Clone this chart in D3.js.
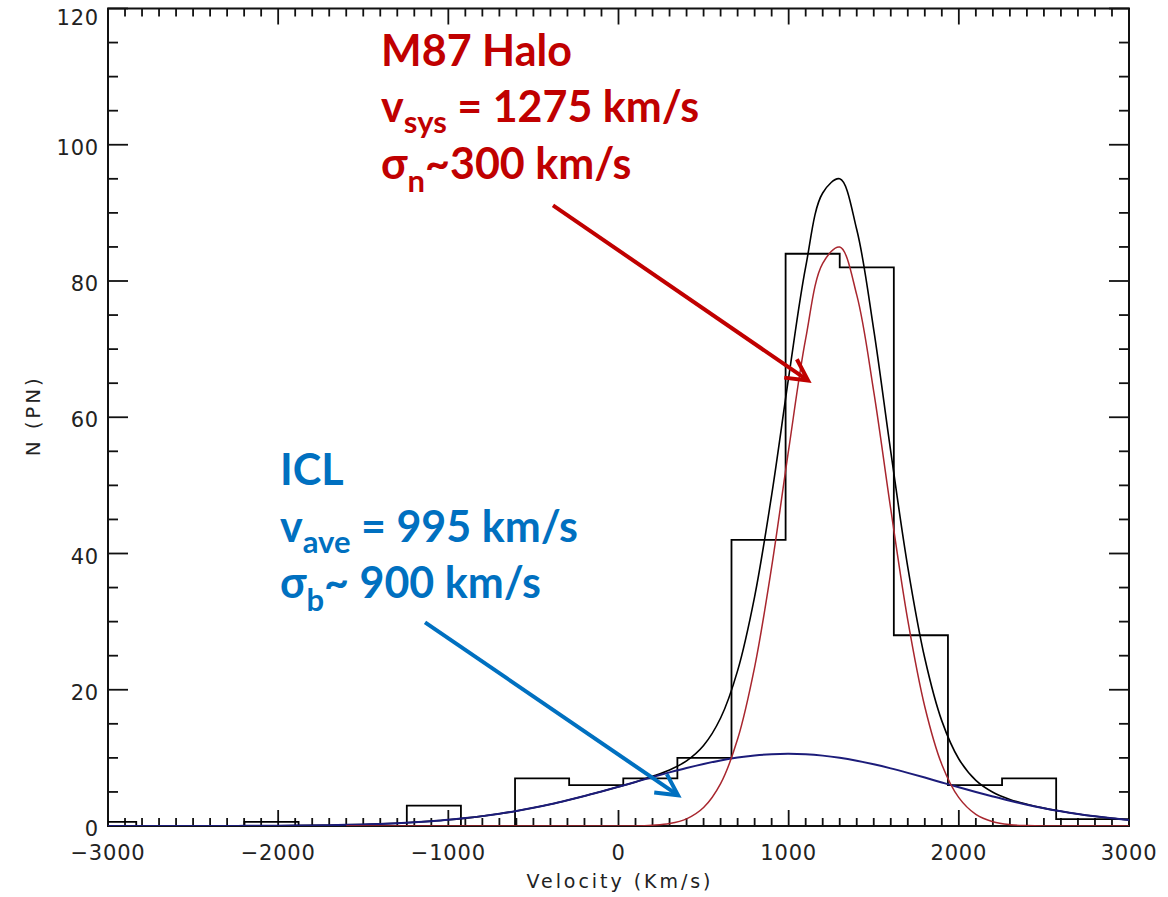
<!DOCTYPE html>
<html><head><meta charset="utf-8">
<script src="https://cdn.jsdelivr.net/npm/d3@7"></script>
<style>html,body{margin:0;padding:0;background:#fff;}svg{display:block;}</style>
</head><body>
<svg id="chart" width="1168" height="897"></svg>
<script>
// ---------- data ----------
const xTickValues = [-3000, -2000, -1000, 0, 1000, 2000, 3000];
const yTickValues = [0, 20, 40, 60, 80, 100, 120];
const binLefts  = [-3152, -2834, -2516, -2198, -1880, -1562, -1244, -926, -608, -290, 28, 346, 664, 982, 1300, 1618, 1936, 2254, 2572, 2890];
const binCounts = [0.6, 0, 0, 0.6, 0, 0, 3, 0, 7, 6, 7, 10, 42, 84, 82, 28, 6, 7, 1, 1];
const binWidth = 318;
const curveVel = [-3000,-2900,-2800,-2700,-2600,-2500,-2400,-2300,-2200,-2100,-2000,-1900,-1800,-1700,-1600,-1500,-1400,-1300,-1200,-1100,-1000,-900,-800,-700,-600,-500,-400,-300,-200,-100,0,100,200,300,400,500,600,700,800,900,1000,1100,1200,1300,1400,1500,1600,1700,1800,1900,2000,2100,2200,2300,2400,2500,2600,2700,2800,2900,3000];
// broad ICL component (blue)
const iclFit = [0,0,0,0,0,0.01,0.01,0.01,0.02,0.03,0.04,0.06,0.09,0.12,0.17,0.23,0.31,0.41,0.54,0.71,0.91,1.16,1.45,1.80,2.20,2.67,3.19,3.77,4.39,5.06,5.75,6.47,7.18,7.87,8.52,9.11,9.63,10.05,10.35,10.54,10.60,10.53,10.33,10.01,9.58,9.06,8.46,7.80,7.11,6.39,5.68,4.99,4.33,3.70,3.13,2.62,2.16,1.76,1.42,1.13,0.89];
// narrow M87 halo component (red)
const haloFit = [null,null,null,null,null,null,null,null,null,null,null,null,null,null,0,0,0,0,0,0,0,0,0,0,0,0,0,0,0,0,0,0,0.11,0.36,1.05,2.71,6.22,12.76,23.33,38.03,55.24,71.53,82.59,84.99,77.97,63.77,46.50,30.21,17.51,9.04,4.16,1.71,0.63,0.20,0.06,0,0,0,0,0,0];
// total fit (black)
const totalFit = [0,0,0,0,0,0.01,0.01,0.01,0.02,0.03,0.04,0.06,0.09,0.12,0.17,0.23,0.31,0.41,0.54,0.71,0.91,1.16,1.45,1.80,2.20,2.67,3.19,3.77,4.39,5.06,5.75,6.47,7.29,8.23,9.57,11.82,15.85,22.81,33.68,48.57,65.84,82.06,92.92,95.00,87.55,72.83,54.96,38.01,24.62,15.43,9.84,6.70,4.96,3.90,3.19,2.62,2.16,1.76,1.42,1.13,0.89];

// ---------- layout ----------
const svg = d3.select("#chart");
const L = 108, R = 1129, T = 8.5, B = 826;
const x = d3.scaleLinear().domain([-3000, 3000]).range([L, R]);
const y = d3.scaleLinear().domain([0, 120]).range([B, T]);

svg.append("defs").append("clipPath").attr("id", "clip")
  .append("rect").attr("x", L).attr("y", T).attr("width", R - L).attr("height", B - T);

// axes (IDL-style box with ticks on all sides)
const xMinor = d3.range(-3000, 3001, 100);
const yMinor = d3.range(0, 121, 5);
const axisColor = "#111";
const frameG = svg.append("g");
function tickLines(g, values, isMajor, pos) {
  g.selectAll(null).data(values).enter().append("line")
    .attr("stroke", axisColor).attr("stroke-width", 1.8)
    .each(function(d){
      const s = d3.select(this);
      const maj = isMajor(d);
      if (pos === "bottom") s.attr("x1", x(d)).attr("x2", x(d)).attr("y1", B).attr("y2", B - (maj ? 16 : 8));
      if (pos === "top") s.attr("x1", x(d)).attr("x2", x(d)).attr("y1", T).attr("y2", T + (maj ? 16 : 8));
      if (pos === "left") s.attr("y1", y(d)).attr("y2", y(d)).attr("x1", L).attr("x2", L + (maj ? 20 : 10));
      if (pos === "right") s.attr("y1", y(d)).attr("y2", y(d)).attr("x1", R).attr("x2", R - (maj ? 20 : 10));
    });
}
const isXMajor = d => d % 1000 === 0;
const isYMajor = d => d % 20 === 0;
tickLines(frameG, xMinor, isXMajor, "bottom");
tickLines(frameG, xMinor, isXMajor, "top");
tickLines(frameG, yMinor, isYMajor, "left");
tickLines(frameG, yMinor, isYMajor, "right");
frameG.append("rect").attr("x", L).attr("y", T).attr("width", R - L).attr("height", B - T)
  .attr("fill", "none").attr("stroke", axisColor).attr("stroke-width", 2);

// tick labels
const labelFont = "'DejaVu Sans', sans-serif";
svg.append("g").selectAll("text").data(xTickValues).enter().append("text")
  .attr("x", d => x(d)).attr("y", 860).attr("text-anchor", "middle")
  .attr("font-family", labelFont).attr("font-size", 21).attr("fill", "#222")
  .attr("letter-spacing", 0.8)
  .text(d => d < 0 ? "\u2212" + Math.abs(d) : String(d));
svg.append("g").selectAll("text").data(yTickValues).enter().append("text")
  .attr("x", 99).attr("y", d => Math.max(y(d) + 2.5, 17.5)).attr("dy", "0.36em").attr("text-anchor", "end")
  .attr("font-family", labelFont).attr("font-size", 21).attr("fill", "#222")
  .attr("letter-spacing", 0.8)
  .text(d => String(d));

// axis titles
svg.append("text").attr("x", (L + R) / 2).attr("y", 888).attr("text-anchor", "middle")
  .attr("font-family", labelFont).attr("font-size", 19).attr("fill", "#222")
  .attr("textLength", 184).attr("lengthAdjust", "spacing")
  .text("Velocity (Km/s)");
svg.append("text").attr("transform", `translate(40,${(T + B) / 2}) rotate(-90)`)
  .attr("text-anchor", "middle")
  .attr("font-family", labelFont).attr("font-size", 20).attr("fill", "#222")
  .attr("textLength", 78).attr("lengthAdjust", "spacing")
  .text("N (PN)");

// ---------- plot ----------
const plot = svg.append("g").attr("clip-path", "url(#clip)");

// histogram as step line
const bins = binLefts.map((v, i) => ({ x0: v, x1: v + binWidth, n: binCounts[i] }));
const histPts = [];
bins.forEach(b => { histPts.push([b.x0, b.n]); histPts.push([b.x1, b.n]); });
plot.append("path")
  .attr("d", d3.line().x(d => x(d[0])).y(d => y(d[1]))(histPts))
  .attr("fill", "none").attr("stroke", "#000").attr("stroke-width", 1.8);

const curveLine = d3.line()
  .defined(d => d[1] !== null)
  .x(d => x(d[0])).y(d => y(d[1]))
  .curve(d3.curveCatmullRom.alpha(0.5));
function drawCurve(vals, color, w) {
  plot.append("path")
    .attr("d", curveLine(curveVel.map((v, i) => [v, vals[i]])))
    .attr("fill", "none").attr("stroke", color).attr("stroke-width", w);
}
drawCurve(totalFit, "#000", 1.6);
drawCurve(iclFit, "#1c1c7a", 2);
drawCurve(haloFit, "#a8262e", 1.5);

// ---------- annotations ----------
const annoFont = "Lato, 'Open Sans', sans-serif";
function block(v0, n0, color, lines) {
  const gx = x(v0), gy = y(n0);
  const t = svg.append("text").attr("font-family", annoFont).attr("font-weight", 700)
    .attr("font-size", 43).attr("fill", color);
  lines.forEach((ln, i) => {
    const base = gy + i * 56.5;
    let first = true;
    ln.forEach(part => {
      const ts = t.append("tspan").text(part.t);
      if (first) { ts.attr("x", gx).attr("y", base + (part.sub ? 11 : 0)); first = false; }
      else ts.attr("y", base + (part.sub ? part.off : 0));
      if (part.sub) ts.attr("font-size", 31);
    });
  });
}
block(-1395, 111.6, "#c00000", [
  [{ t: "M87 Halo" }],
  [{ t: "v" }, { t: "sys", sub: true, off: 11 }, { t: " = 1275 km/s" }],
  [{ t: "σ" }, { t: "n", sub: true, off: 13 }, { t: "~300 km/s" }]
]);
block(-1989, 50.0, "#0070c0", [
  [{ t: "ICL" }],
  [{ t: "v" }, { t: "ave", sub: true, off: 11 }, { t: " = 995 km/s" }],
  [{ t: "σ" }, { t: "b", sub: true, off: 13 }, { t: "~ 900 km/s" }]
]);

function arrow(v0, n0, v1, n1, color) {
  const x0 = x(v0), y0 = y(n0), x1 = x(v1), y1 = y(n1);
  const ang = Math.atan2(y1 - y0, x1 - x0);
  const len = 24, spread = Math.PI / 6.5;
  const g = svg.append("g").attr("stroke", color).attr("stroke-width", 4)
    .attr("fill", "none").attr("stroke-linecap", "butt").attr("stroke-linejoin", "miter");
  g.append("line").attr("x1", x0).attr("y1", y0).attr("x2", x1 - 2 * Math.cos(ang)).attr("y2", y1 - 2 * Math.sin(ang));
  g.append("polyline").attr("points", [
    [x1 - len * Math.cos(ang - spread), y1 - len * Math.sin(ang - spread)],
    [x1, y1],
    [x1 - len * Math.cos(ang + spread), y1 - len * Math.sin(ang + spread)]
  ].map(p => p.join(",")).join(" "));
}
arrow(-385, 91.1, 1114, 65.4, "#c00000");
arrow(-1137, 29.9, 350, 4.5, "#0070c0");
</script>
</body></html>
